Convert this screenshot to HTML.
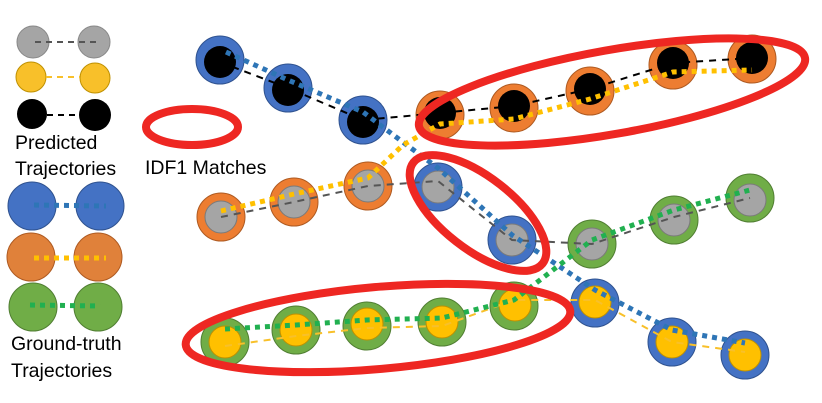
<!DOCTYPE html>
<html><head><meta charset="utf-8"><style>
html,body{margin:0;padding:0;background:#fff;}
svg{display:block;}
text{font-family:"Liberation Sans",sans-serif;font-size:19.5px;fill:#000;}
</style></head><body>
<svg width="822" height="403" viewBox="0 0 822 403" xmlns="http://www.w3.org/2000/svg">
<defs>
<g id="b"><circle r="24" fill="#4472C4" stroke="#2F528F" stroke-width="1"/></g>
<g id="o"><circle r="24" fill="#ED7D31" stroke="#AE5A21" stroke-width="1"/></g>
<g id="g"><circle r="24" fill="#70AD47" stroke="#507E32" stroke-width="1"/></g>
<g id="k"><circle r="16" fill="#000"/></g>
<g id="s"><circle r="16" fill="#A5A5A5" stroke="#7a7a7a" stroke-width="1"/></g>
<g id="y"><circle r="16" fill="#FFC000" stroke="#BF9000" stroke-width="1"/></g>
</defs>
<circle cx="33" cy="42" r="16" fill="#A5A5A5" stroke="#888"/>
<circle cx="94" cy="42" r="16" fill="#A5A5A5" stroke="#888"/>
<line x1="35" y1="42" x2="96" y2="42" stroke="#555" stroke-width="2" stroke-dasharray="6,5"/>
<circle cx="31" cy="77" r="15" fill="#F8C02A" stroke="#BF9000"/>
<circle cx="95" cy="78" r="15" fill="#F8C02A" stroke="#BF9000"/>
<line x1="46" y1="77" x2="80" y2="77" stroke="#F8C02A" stroke-width="2" stroke-dasharray="6,5"/>
<circle cx="32" cy="114" r="15" fill="#000"/>
<circle cx="95" cy="115" r="16" fill="#000"/>
<line x1="47" y1="115" x2="80" y2="115" stroke="#000" stroke-width="2" stroke-dasharray="6,5"/>
<text x="15" y="149">Predicted</text>
<text x="15" y="175">Trajectories</text>
<circle cx="32" cy="206" r="24" fill="#4472C4" stroke="#2F528F"/>
<circle cx="100" cy="206" r="24" fill="#4472C4" stroke="#2F528F"/>
<line x1="34" y1="205" x2="106" y2="206" stroke="#2E75B6" stroke-width="5" stroke-dasharray="5,5"/>
<circle cx="31" cy="257" r="24" fill="#E0813A" stroke="#AE5A21"/>
<circle cx="98" cy="257" r="24" fill="#E0813A" stroke="#AE5A21"/>
<line x1="34" y1="258" x2="106" y2="258" stroke="#FFC000" stroke-width="5" stroke-dasharray="5,5"/>
<circle cx="33" cy="307" r="24" fill="#70AD47" stroke="#507E32"/>
<circle cx="98" cy="307" r="24" fill="#70AD47" stroke="#507E32"/>
<line x1="30" y1="305" x2="100" y2="306" stroke="#21B050" stroke-width="5" stroke-dasharray="5,5"/>
<text x="11" y="350">Ground-truth</text>
<text x="11" y="377">Trajectories</text>
<ellipse cx="192" cy="127" rx="46" ry="18" fill="none" stroke="#EE2722" stroke-width="8"/>
<text x="145" y="174">IDF1 Matches</text>

<use href="#b" x="220" y="60"/><use href="#k" x="220" y="62"/>
<use href="#b" x="288" y="88"/><use href="#k" x="288" y="90"/>
<use href="#b" x="363" y="120"/><use href="#k" x="363" y="122"/>
<use href="#o" x="440" y="115"/><use href="#k" x="440" y="113"/>
<use href="#o" x="514" y="108"/><use href="#k" x="514" y="106"/>
<use href="#o" x="590" y="91"/><use href="#k" x="590" y="89"/>
<use href="#o" x="673" y="65"/><use href="#k" x="673" y="63"/>
<use href="#o" x="752" y="59"/><use href="#k" x="752" y="58"/>
<use href="#o" x="221" y="217"/><use href="#s" x="221" y="217"/>
<use href="#o" x="294" y="202"/><use href="#s" x="294" y="202"/>
<use href="#o" x="368" y="186"/><use href="#s" x="368" y="186"/>
<use href="#b" x="438" y="187"/><use href="#s" x="438" y="187"/>
<use href="#b" x="512" y="240"/><use href="#s" x="512" y="240"/>
<use href="#g" x="592" y="244"/><use href="#s" x="592" y="244"/>
<use href="#g" x="674" y="220"/><use href="#s" x="674" y="220"/>
<use href="#g" x="750" y="198"/><use href="#s" x="750" y="200"/>
<use href="#g" x="225" y="342"/><use href="#y" x="225" y="342"/>
<use href="#g" x="296" y="330"/><use href="#y" x="296" y="330"/>
<use href="#g" x="367" y="326"/><use href="#y" x="367" y="324"/>
<use href="#g" x="442" y="322"/><use href="#y" x="442" y="322"/>
<use href="#g" x="514" y="306"/><use href="#y" x="515" y="305"/>
<use href="#b" x="595" y="303"/><use href="#y" x="595" y="302"/>
<use href="#b" x="672" y="342"/><use href="#y" x="672" y="342"/>
<use href="#b" x="745" y="355"/><use href="#y" x="745" y="355"/>

<polyline points="220,62 288,88 363,120 440,113 514,106 590,89 673,63 752,58" fill="none" stroke="#000" stroke-width="2" stroke-dasharray="7,6"/>
<polyline points="221,217 294,202 368,186 438,181 512,240 592,244 674,217 750,198" fill="none" stroke="#555" stroke-width="2" stroke-dasharray="7,6"/>
<polyline points="225,346 296,336 367,328 442,326 514,300 595,300 672,342 745,352" fill="none" stroke="#F8C02A" stroke-width="2" stroke-dasharray="7,6"/>
<polyline points="226,52 288,80 363,112 400,140 438,168 512,235 595,290 672,330 745,343" fill="none" stroke="#2E75B6" stroke-width="5" stroke-dasharray="5,5"/>
<polyline points="221,211 294,194 368,178 403,145 440,124 514,119 590,99 673,72 752,70" fill="none" stroke="#FFC000" stroke-width="5" stroke-dasharray="5,5"/>
<polyline points="225,329 296,325 367,320 442,318 514,300 592,240 674,210 750,190" fill="none" stroke="#21B050" stroke-width="5" stroke-dasharray="5,5"/>

<ellipse cx="612" cy="92" rx="196" ry="42" transform="rotate(-10 612 92)" fill="none" stroke="#EE2722" stroke-width="8"/>
<ellipse cx="478" cy="213" rx="82" ry="36" transform="rotate(38 478 213)" fill="none" stroke="#EE2722" stroke-width="8"/>
<ellipse cx="378" cy="328" rx="193" ry="41" transform="rotate(-5 378 328)" fill="none" stroke="#EE2722" stroke-width="8"/>
</svg>
</body></html>
